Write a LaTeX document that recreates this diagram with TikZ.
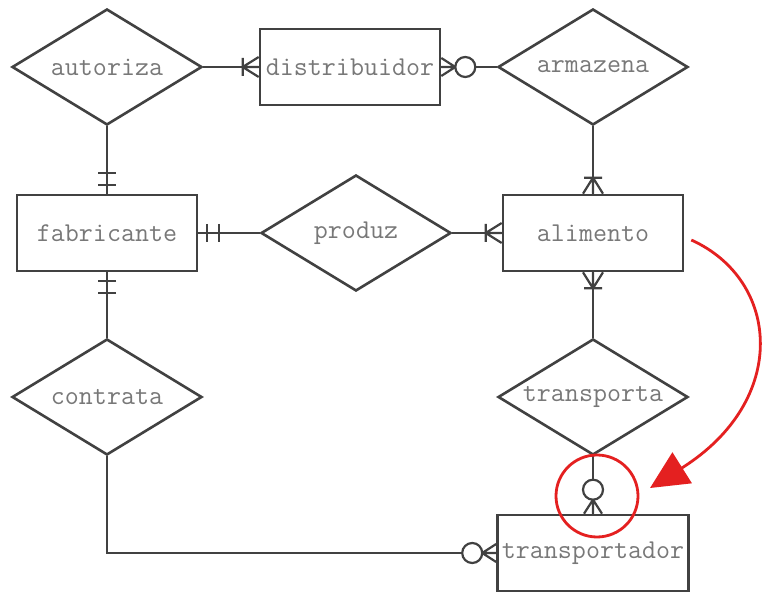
\documentclass[tikz,border=0pt]{standalone}
\usepackage{fontspec}
\usetikzlibrary{shapes.geometric,calc,arrows.meta}
\definecolor{linegray}{RGB}{65,65,65}
\definecolor{textgray}{RGB}{120,120,120}
\definecolor{markred}{RGB}{228,32,32}

\tikzset{
  erfont/.style={text=textgray, font=\ttfamily\fontsize{27.2}{32}\selectfont},
  entity/.style={erfont, draw=linegray, line width=2.6pt, rectangle, minimum width=180pt, minimum height=76pt, inner sep=0pt},
  relation/.style={erfont, draw=linegray, line width=2.6pt, diamond, aspect=1.64, minimum width=190pt, minimum height=116pt, inner sep=0pt},
  erline/.style={draw=linegray, line width=2.2pt},
  one many/.pic={\draw[erline] (0,10)--(-16,0)--(0,-10) (0,0)--(-16,0) (-16,-9)--(-16,9);},
  zero many/.pic={\draw[erline] (0,9)--(-14,0)--(0,-9) (0,0)--(-14,0);
    \draw[erline,fill=white] (-24,0) circle (10pt);},
  one only/.pic={\draw[erline] (-9,-9)--(-9,9) (-21,-9)--(-21,9);}
}

\begin{document}
\begin{tikzpicture}[x=1pt,y=1pt]
\useasboundingbox (0,0) rectangle (762,594);
\fill[white] (0,0) rectangle (762,594);

% relations
\node[relation] (autoriza) at (107,527) {autoriza};
\node[relation] (armazena) at (593,527) {armazena};
\node[relation] (produz) at (356,361) {produz};
\node[relation] (contrata) at (107,197) {contrata};
\node[relation] (transporta) at (593,197) {transporta};

% entities
\node[entity] (distribuidor) at (350,527) {distribuidor};
\node[entity] (fabricante) at (107,361) {fabricante};
\node[entity] (alimento) at (593,361) {alimento};
\node[entity, minimum width=191pt] (transportador) at (593,41) {transportador};

% connectors
\draw[erline] (autoriza.east) -- (distribuidor.west);
\draw[erline] (distribuidor.east) -- (armazena.west);
\draw[erline] (autoriza.south) -- (fabricante.north);
\draw[erline] (fabricante.east) -- (produz.west);
\draw[erline] (produz.east) -- (alimento.west);
\draw[erline] (armazena.south) -- (alimento.north);
\draw[erline] (alimento.south) -- (transporta.north);
\draw[erline] (fabricante.south) -- (contrata.north);
\draw[erline] (contrata.south) |- (transportador.west);
\draw[erline] (transporta.south) -- (transportador.north);

% cardinalities
\pic at (distribuidor.west) {one many};
\pic[rotate=180] at (distribuidor.east) {zero many};
\pic[rotate=-90] at (fabricante.north) {one only};
\pic[rotate=180] at (fabricante.east) {one only};
\pic[rotate=90] at (fabricante.south) {one only};
\pic at (alimento.west) {one many};
\pic[rotate=-90] at (alimento.north) {one many};
\pic[rotate=90] at (alimento.south) {one many};
\pic at (transportador.west) {zero many};
\pic[rotate=-90] at (transportador.north) {zero many};

% highlight
\node[circle, draw=markred, line width=2.8pt, minimum size=82pt, inner sep=0pt] (highlight) at (597,98) {};
\coordinate (note start) at ($(alimento.east)+(7,-7)$);
\coordinate (note end) at (650,106);
\draw[markred, line width=2.8pt, -{Triangle[length=38pt,width=36pt]}]
  (note start) .. controls (780,314) and (790,194) .. (note end);
\end{tikzpicture}
\end{document}
